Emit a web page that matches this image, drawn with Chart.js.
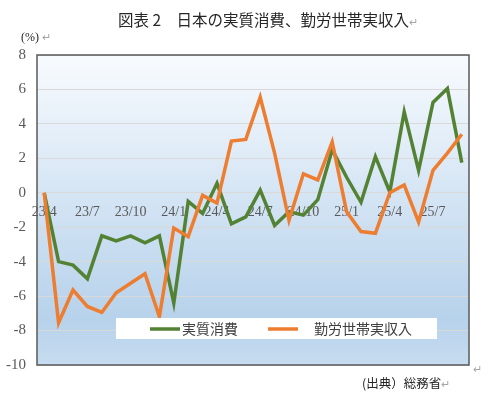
<!DOCTYPE html>
<html>
<head>
<meta charset="utf-8">
<script src="https://cdn.jsdelivr.net/npm/chart.js@4"></script>
<style>
  body { margin: 0; background: #fff; }
  #wrap { position: relative; width: 489px; height: 398px; }
  .txt { position: absolute; white-space: nowrap; color: #262626; font-family: "Noto Sans CJK JP", sans-serif; }
  .ret { color: #a6a6a6; font-size: 11px; }
</style>
</head>
<body>
<div id="wrap">
  <canvas id="chart" width="489" height="398"></canvas>
  <div class="txt" style="left:118px; top:8px; font-size:15.5px;">図表 2　日本の実質消費、勤労世帯実収入<span class="ret">↵</span></div>
  <div class="txt" style="left:21px; top:30px; font-size:12px; font-family:'Liberation Serif', serif;">(%) <span class="ret">↵</span></div>
  <div class="txt" style="left:362px; top:373px; font-size:12.5px;">(出典）総務省<span class="ret">↵</span></div>
  <div class="txt ret" style="left:473px; top:360px;">↵</div>
</div>
<script>
const months = ["23/4", "23/5", "23/6", "23/7", "23/8", "23/9", "23/10", "23/11", "23/12",
  "24/1", "24/2", "24/3", "24/4", "24/5", "24/6", "24/7", "24/8", "24/9", "24/10", "24/11", "24/12",
  "25/1", "25/2", "25/3", "25/4", "25/5", "25/6", "25/7", "25/8", "25/9"];

const consumption = [0, -4.0, -4.2, -5.0, -2.5, -2.8, -2.5, -2.9, -2.5,
  -6.4, -0.5, -1.2, 0.55, -1.8, -1.4, 0.15, -1.9, -1.1, -1.3, -0.4, 2.5,
  0.9, -0.55, 2.1, 0.05, 4.7, 1.3, 5.25, 6.05, 1.75];

const income = [0, -7.55, -5.65, -6.6, -6.95, -5.8, -5.25, -4.7, -7.2,
  -2.05, -2.55, -0.15, -0.6, 3.0, 3.1, 5.55, 2.3, -1.6, 1.1, 0.75, 2.95,
  -1.1, -2.25, -2.35, 0.0, 0.45, -1.7, 1.3, 2.3, 3.4];

const seriesNames = ["実質消費", "勤労世帯実収入"];
const yTicks = [-10, -8, -6, -4, -2, 0, 2, 4, 6, 8];

const green = "#548235";
const orange = "#ED7D31";
const serif = "'Liberation Serif', 'Times New Roman', serif";

// gradient background + frame + legend box
const plotDeco = {
  id: "plotDeco",
  beforeDraw(chart) {
    const { ctx, chartArea: a } = chart;
    const g = ctx.createLinearGradient(0, a.top, 0, a.bottom);
    g.addColorStop(0, "#f8fbfe");
    g.addColorStop(0.55, "#cde0f2");
    g.addColorStop(0.85, "#b7d2eb");
    g.addColorStop(1, "#c6dcf0");
    ctx.save();
    ctx.fillStyle = g;
    ctx.fillRect(a.left, a.top, a.right - a.left, a.bottom - a.top);
    ctx.restore();
  },
  afterDraw(chart) {
    const { ctx, chartArea: a } = chart;
    ctx.save();
    ctx.strokeStyle = "#595959";
    ctx.lineWidth = 1.5;
    ctx.strokeRect(a.left, a.top, a.right - a.left, a.bottom - a.top);

    // legend
    const bx = a.left + 79, by = a.bottom - 47;
    ctx.fillStyle = "#fff";
    ctx.fillRect(bx, by, 321, 21);
    const items = [
      { x: bx + 34, color: green, label: chart.data.datasets[0].label },
      { x: bx + 152, color: orange, label: chart.data.datasets[1].label }
    ];
    ctx.lineWidth = 3.5;
    ctx.font = "14px 'Noto Sans CJK JP', sans-serif";
    ctx.textBaseline = "middle";
    items.forEach((it, i) => {
      ctx.strokeStyle = it.color;
      ctx.beginPath();
      ctx.moveTo(it.x, by + 11);
      ctx.lineTo(it.x + 30, by + 11);
      ctx.stroke();
      ctx.fillStyle = "#404040";
      ctx.fillText(it.label, it.x + (i === 0 ? 32 : 46), by + 11);
    });
    ctx.restore();
  }
};

new Chart(document.getElementById("chart"), {
  type: "line",
  data: {
    labels: months,
    datasets: [
      {
        label: seriesNames[0],
        data: consumption,
        borderColor: green,
        borderWidth: 3.5,
        pointRadius: 0,
        tension: 0,
        order: 1
      },
      {
        label: seriesNames[1],
        data: income,
        borderColor: orange,
        borderWidth: 3.5,
        pointRadius: 0,
        tension: 0,
        order: 0
      }
    ]
  },
  options: {
    responsive: false,
    animation: false,
    layout: { padding: { left: 0, top: 55, right: 20, bottom: 33 } },
    plugins: {
      legend: { display: false },
      tooltip: { enabled: false }
    },
    scales: {
      x: {
        position: { y: 0 },
        offset: true,
        grid: { display: false },
        border: { display: false },
        ticks: {
          autoSkip: false,
          maxRotation: 0,
          padding: 3,
          color: "#595959",
          font: { family: serif, size: 14 },
          callback: (v, i) => (i % 3 === 0 ? months[i] : "")
        }
      },
      y: {
        min: -10,
        max: 8,
        afterFit: (s) => { s.width = 37; },
        afterBuildTicks: (s) => { s.ticks = yTicks.map(v => ({ value: v })); },
        grid: { color: "#d9d9d9", lineWidth: 1, drawTicks: false },
        border: { display: false },
        ticks: {
          padding: 11,
          color: "#595959",
          font: { family: serif, size: 15 }
        }
      }
    }
  },
  plugins: [plotDeco]
});
</script>
</body>
</html>
